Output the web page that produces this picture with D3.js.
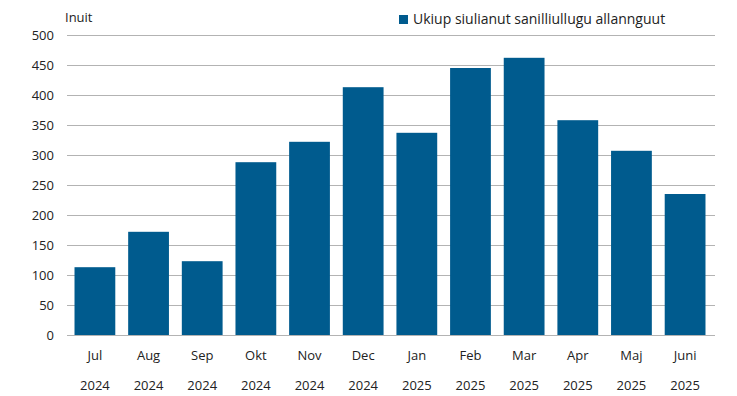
<!DOCTYPE html>
<html>
<head>
<meta charset="utf-8">
<script src="https://cdn.jsdelivr.net/npm/d3@7"></script>
<style>
  body { margin: 0; background: #fff; }
  text { font-family: "Open Sans", "Noto Sans", sans-serif; fill: #222; }
</style>
</head>
<body>
<div id="chart"></div>
<script>
// data
var months = ["Jul", "Aug", "Sep", "Okt", "Nov", "Dec", "Jan", "Feb", "Mar", "Apr", "Maj", "Juni"];
var years = ["2024", "2024", "2024", "2024", "2024", "2024", "2025", "2025", "2025", "2025", "2025", "2025"];
var values = [113, 172, 123, 288, 322, 413, 337, 445, 462, 358, 307, 235];
var yTicks = [0, 50, 100, 150, 200, 250, 300, 350, 400, 450, 500];
var seriesName = "Ukiup siulianut sanilliullugu allannguut";
var unitLabel = "Inuit";

var w = 737, h = 396;
var margin = {left: 67, right: 22, top: 35, bottom: 61};
var pw = w - margin.left - margin.right;
var ph = h - margin.top - margin.bottom;
var barColor = "#005b8e";
var fs = "13px";

var svg = d3.select("#chart").append("svg")
    .attr("width", w)
    .attr("height", h);

var g = svg.append("g")
    .attr("transform", "translate(" + margin.left + "," + margin.top + ")");

var xScale = d3.scaleBand()
    .domain(d3.range(values.length))
    .range([0, pw - 2])
    .paddingInner(0.24)
    .paddingOuter(0.14);

var yScale = d3.scaleLinear()
    .domain([0, 500])
    .range([ph, 0]);

// gridlines
g.selectAll("line.grid")
    .data(yTicks)
    .enter()
    .append("line")
    .attr("class", "grid")
    .attr("x1", 0)
    .attr("x2", pw)
    .attr("y1", function(d) { return Math.round(yScale(d)) + 0.5; })
    .attr("y2", function(d) { return Math.round(yScale(d)) + 0.5; })
    .attr("stroke", "#b3b3b3")
    .attr("stroke-width", 1);

// bars
g.selectAll("rect.bar")
    .data(values)
    .enter()
    .append("rect")
    .attr("class", "bar")
    .attr("x", function(d, i) { return xScale(i); })
    .attr("y", function(d) { return yScale(d); })
    .attr("width", xScale.bandwidth())
    .attr("height", function(d) { return ph - yScale(d); })
    .attr("fill", barColor);

// y axis
var y_axis = d3.axisLeft(yScale)
    .tickValues(yTicks)
    .tickSize(0)
    .tickPadding(13);

var yg = g.append("g").call(y_axis);
yg.select(".domain").remove();
yg.selectAll("text").style("font-size", fs).style("font-family", "'Open Sans', sans-serif").attr("fill", "#222");

// x axis: month on first row, year on second row
var xg = g.append("g").attr("transform", "translate(0," + ph + ")");
xg.selectAll("text.month")
    .data(months)
    .enter()
    .append("text")
    .attr("class", "month")
    .attr("x", function(d, i) { return xScale(i) + xScale.bandwidth() / 2; })
    .attr("y", 25)
    .attr("text-anchor", "middle")
    .style("font-size", fs)
    .text(function(d) { return d; });

xg.selectAll("text.year")
    .data(years)
    .enter()
    .append("text")
    .attr("class", "year")
    .attr("x", function(d, i) { return xScale(i) + xScale.bandwidth() / 2; })
    .attr("y", 55)
    .attr("text-anchor", "middle")
    .style("font-size", fs)
    .text(function(d) { return d; });

// unit label
svg.append("text")
    .attr("x", 65)
    .attr("y", 22)
    .style("font-size", fs)
    .text(unitLabel);

// legend
svg.append("rect")
    .attr("x", 399)
    .attr("y", 15)
    .attr("width", 9)
    .attr("height", 9)
    .attr("fill", barColor);
svg.append("text")
    .attr("x", 413)
    .attr("y", 24)
    .style("font-size", "14px")
    .text(seriesName);
</script>
</body>
</html>
